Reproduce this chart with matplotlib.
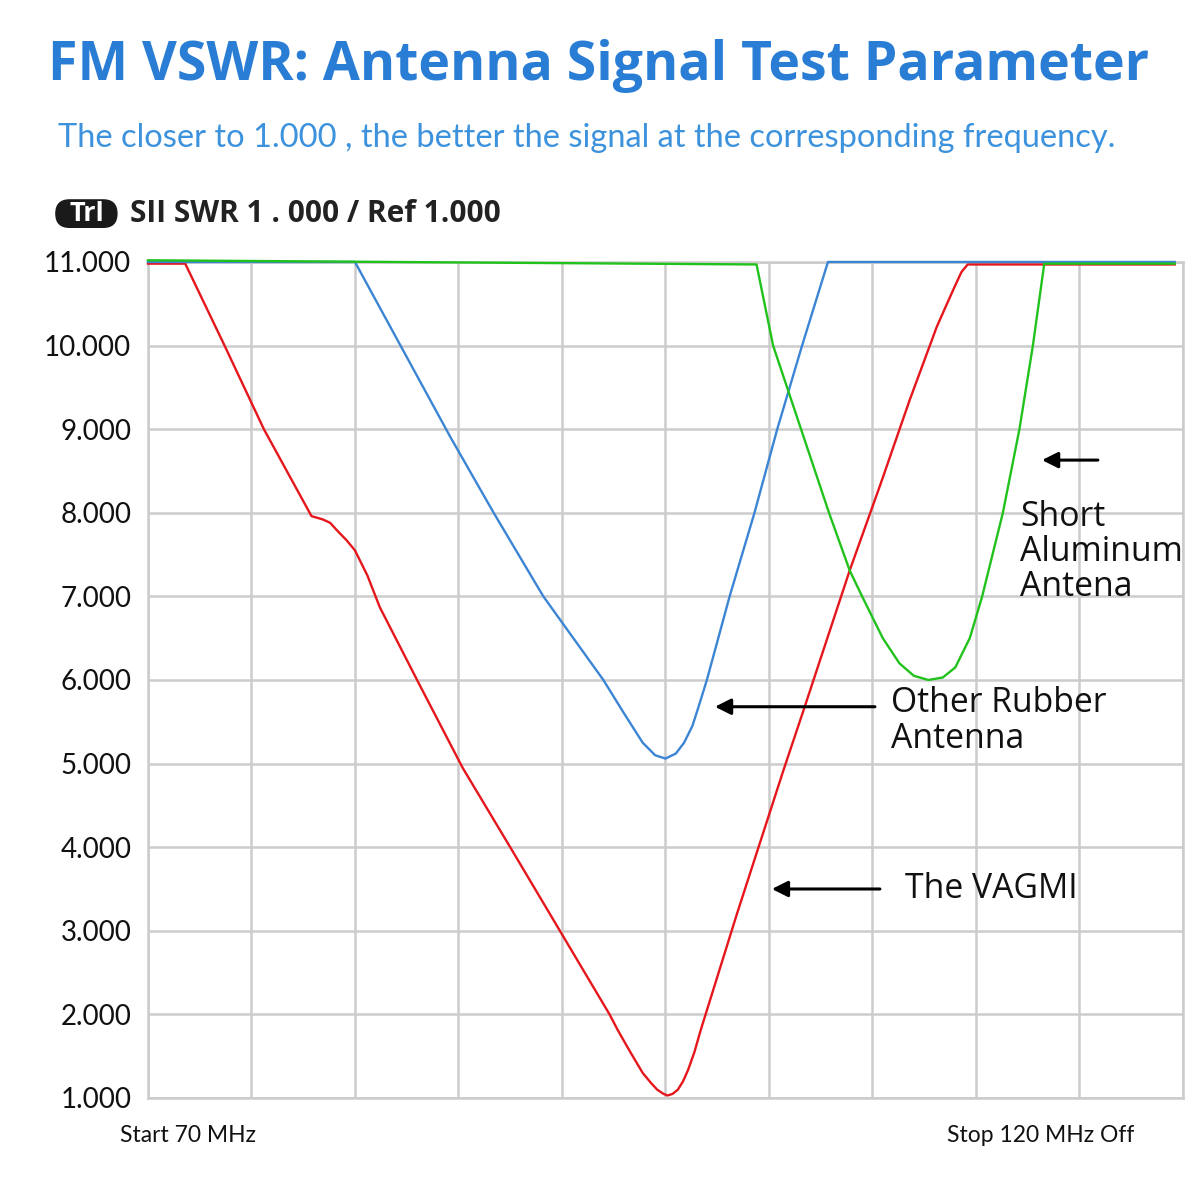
import matplotlib
matplotlib.use("Agg")
import matplotlib.pyplot as plt
from matplotlib.patches import FancyBboxPatch

# Frequency (MHz) / SWR points
vagmi_mhz = [70.0, 71.8, 73.7, 75.6, 77.9, 78.45, 78.8, 79.13, 79.6, 80.0, 80.6, 81.2,
             83.0, 85.2, 87.5, 89.9, 92.3, 92.7, 93.3, 93.9, 94.3, 94.6, 94.9, 95.1,
             95.35, 95.6, 95.85, 96.1, 96.4, 96.7, 98.45, 100.7, 101.7, 103.9, 105.4,
             106.8, 108.1, 108.6, 109.0, 109.3, 109.6, 119.6]
vagmi_swr = [10.98, 10.98, 10.0, 9.0, 7.96, 7.92, 7.88, 7.79, 7.67, 7.55, 7.25, 6.87,
             6.0, 4.95, 4.0, 3.0, 2.0, 1.81, 1.55, 1.30, 1.18, 1.10, 1.05, 1.03,
             1.05, 1.10, 1.20, 1.34, 1.55, 1.81, 3.2, 4.92, 5.66, 7.31, 8.35,
             9.35, 10.22, 10.5, 10.72, 10.88, 10.97, 10.97]

rubber_mhz = [70.0, 80.0, 82.2, 84.6, 86.7, 89.1, 92.0, 93.0, 93.9, 94.5, 95.0, 95.5,
              95.9, 96.3, 96.6, 97.0, 98.1, 99.3, 100.4, 101.6, 102.85, 119.6]
rubber_swr = [11.0, 11.0, 10.0, 8.91, 8.0, 7.0, 6.0, 5.6, 5.25, 5.1, 5.06, 5.12,
              5.25, 5.45, 5.68, 6.0, 7.0, 8.0, 9.0, 10.0, 11.0, 11.0]

short_mhz = [70.0, 99.4, 100.2, 101.55, 102.9, 103.9, 104.5, 105.5, 106.3, 107.0, 107.7,
             108.4, 109.0, 109.7, 110.3, 111.3, 112.1, 112.75, 113.3, 119.6]
short_swr = [11.02, 10.97, 10.0, 9.0, 8.0, 7.31, 7.0, 6.5, 6.2, 6.05, 6.0,
             6.03, 6.15, 6.5, 7.0, 8.0, 9.0, 10.0, 10.98, 10.98]

y_ticks = [1, 2, 3, 4, 5, 6, 7, 8, 9, 10, 11]
x_ticks = [70, 75, 80, 85, 90, 95, 100, 105, 110, 115, 120]

TITLE_BLUE = "#2a7dd4"
SUB_BLUE = "#3c92dc"
GRID = "#cccccc"

fig = plt.figure(figsize=(12, 12), dpi=100)
fig.patch.set_facecolor("white")
ax = fig.add_axes([0.1233, 0.085, 0.8625, 0.6967])

ax.plot(vagmi_mhz, vagmi_swr, color="#e5161c", lw=1.7, clip_on=False, zorder=3)
ax.plot(rubber_mhz, rubber_swr, color="#3b85d4", lw=1.7, clip_on=False, zorder=4)
ax.plot(short_mhz, short_swr, color="#22c21c", lw=1.7, clip_on=False, zorder=5)

ax.set_xlim(70, 120)
ax.set_ylim(1, 11)
ax.set_xticks(x_ticks)
ax.set_yticks(y_ticks)
ax.set_xticklabels([])
ax.set_yticklabels([f"{v:.3f}" for v in y_ticks], fontsize=20, family=["Lato", "DejaVu Sans"],
                   color="#111111")
ax.tick_params(length=0, pad=12)
ax.grid(True, color=GRID, lw=1.8)
for sp in ax.spines.values():
    sp.set_color(GRID)
    sp.set_linewidth(1.8)
ax.set_axisbelow(True)

# annotations with arrows
arrow = dict(arrowstyle="-|>", lw=2.2, color="black", mutation_scale=24, shrinkA=0, shrinkB=0)
ax.annotate("", xy=(113.19, 8.63), xytext=(115.89, 8.63), arrowprops=arrow)
ax.annotate("", xy=(97.39, 5.68), xytext=(105.12, 5.68), arrowprops=arrow)
ax.annotate("", xy=(100.14, 3.50), xytext=(105.36, 3.50), arrowprops=arrow)

label_font = dict(fontsize=24.3, family=["Open Sans", "DejaVu Sans"], color="#111111",
                  ha="left", va="center", linespacing=1.05, clip_on=False)
ax.text(112.13, 7.53, "Short\nAluminum\nAntena", **label_font)
ax.text(105.89, 5.51, "Other Rubber\nAntenna", **label_font)
ax.text(106.57, 3.50, "The VAGMI", **label_font)

# header texts
fig.text(0.04, 0.945, "FM VSWR: Antenna Signal Test Parameter", fontsize=38.6, fontweight="bold",
         color=TITLE_BLUE, family=["Open Sans", "DejaVu Sans"], ha="left", va="center")
fig.text(0.048, 0.885, "The closer to 1.000 , the better the signal at the corresponding frequency.",
         fontsize=23.5, color=SUB_BLUE, family=["Lato", "DejaVu Sans"], ha="left", va="center")

badge = FancyBboxPatch((0.046, 0.810), 0.052, 0.024, boxstyle="round,pad=0,rounding_size=0.012",
                       transform=fig.transFigure, facecolor="#1a1a1a", edgecolor="none")
fig.patches.append(badge)
fig.text(0.072, 0.822, "Trl", fontsize=19.5, fontweight="bold", color="white",
         family=["Open Sans", "DejaVu Sans"], ha="center", va="center")
fig.text(0.108, 0.822, "SII SWR 1 . 000 / Ref 1.000", fontsize=21.5, fontweight="bold",
         color="#222222", family=["Open Sans", "DejaVu Sans"], ha="left", va="center")

fig.text(0.10, 0.054, "Start 70 MHz", fontsize=16.5, color="#111111",
         family=["Lato", "DejaVu Sans"], ha="left", va="center")
fig.text(0.789, 0.054, "Stop 120 MHz Off", fontsize=16.5, color="#111111",
         family=["Lato", "DejaVu Sans"], ha="left", va="center")

fig.savefig("out.png", dpi=100, facecolor="white")
